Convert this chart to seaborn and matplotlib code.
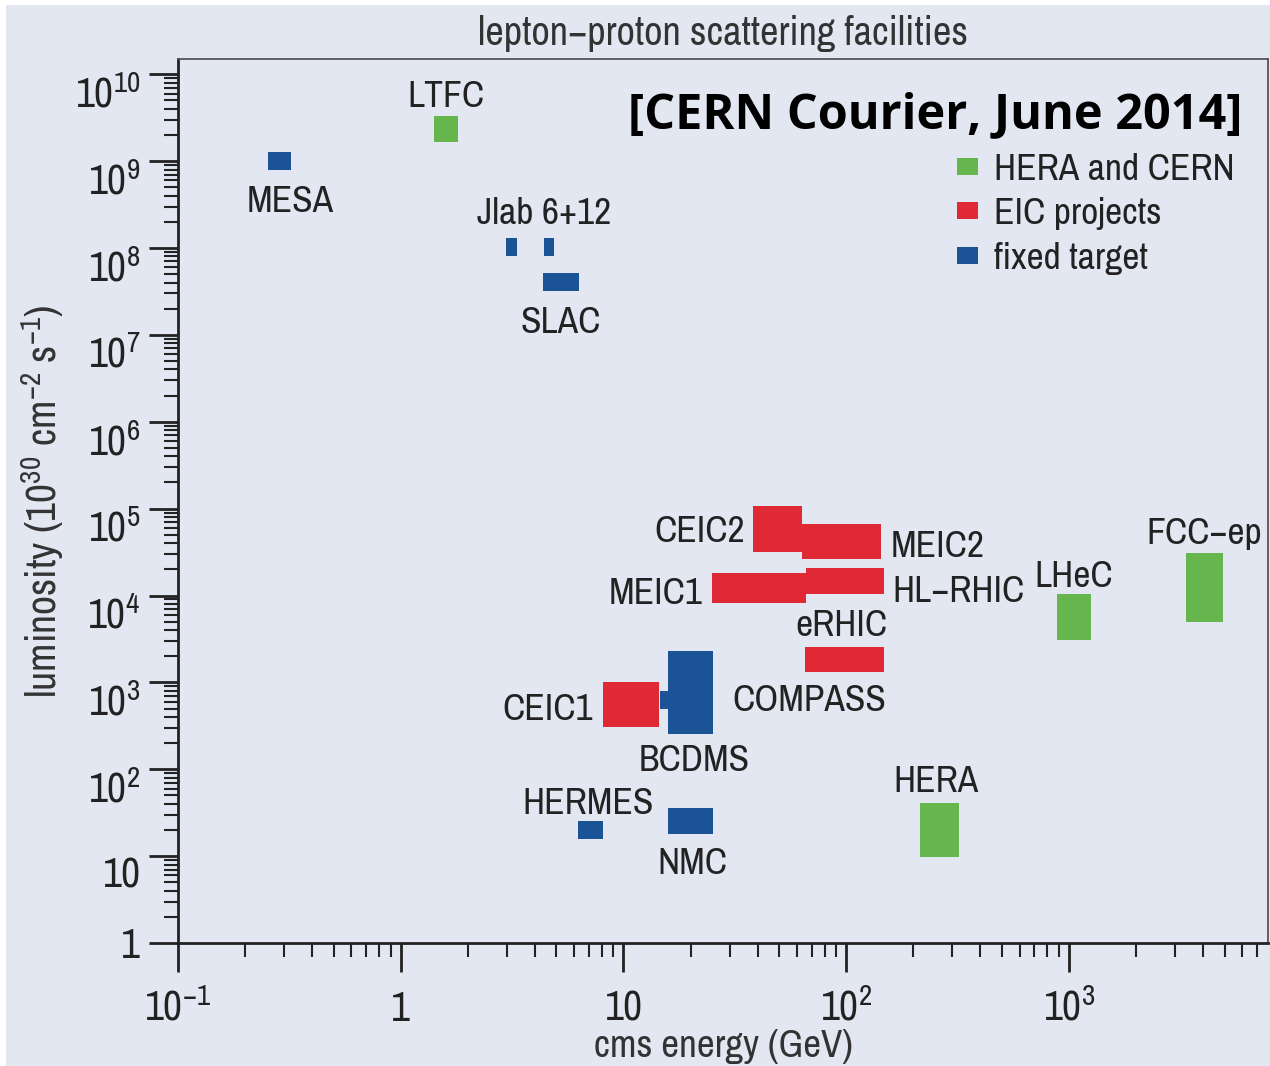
import matplotlib
matplotlib.use("Agg")
import matplotlib.pyplot as plt
from matplotlib.patches import Patch, Rectangle
from matplotlib.ticker import FixedLocator, FixedFormatter, LogLocator, NullFormatter
import seaborn as sns

# facilities: cms energy range (GeV) and luminosity range (1e30 cm^-2 s^-1)
names = ["MESA", "LTFC", "Jlab 6", "Jlab 12", "SLAC",
         "CEIC2", "MEIC2", "MEIC1", "HL-RHIC", "eRHIC",
         "COMPASS", "CEIC1", "BCDMS", "HERMES", "NMC",
         "HERA", "LHeC", "FCC-ep"]
groups = ["fixed target", "HERA and CERN", "fixed target", "fixed target", "fixed target",
          "EIC projects", "EIC projects", "EIC projects", "EIC projects", "EIC projects",
          "fixed target", "EIC projects", "fixed target", "fixed target", "fixed target",
          "HERA and CERN", "HERA and CERN", "HERA and CERN"]
e_lo = [0.254, 1.41, 2.97, 4.39, 4.35, 38, 63, 25, 66, 65, 14.6, 8.1, 15.8, 6.24, 15.8, 215, 885, 3360]
e_hi = [0.321, 1.81, 3.33, 4.87, 6.3, 63, 144, 66, 148, 148, 20, 14.5, 25.2, 8.09, 25.2, 321, 1260, 4920]
lumi_lo = [8.0e8, 1.65e9, 8.0e7, 8.0e7, 3.2e7, 3.2e4, 2.6e4, 8.3e3, 1.05e4, 1.32e3,
           500, 310, 256, 15.8, 18, 9.8, 3.1e3, 5.0e3]
lumi_hi = [1.26e9, 3.28e9, 1.29e8, 1.29e8, 5.2e7, 1.08e5, 6.7e4, 1.83e4, 2.1e4, 2.57e3,
           800, 1020, 2270, 25.6, 36, 41, 1.03e4, 3.1e4]
label_text = {"Jlab 12": "Jlab 6+12", "HL-RHIC": "HL\u2212RHIC", "FCC-ep": "FCC\u2212ep"}

legend_order = ["HERA and CERN", "EIC projects", "fixed target"]
x_ticks = [0.1, 1, 10, 100, 1000]
x_tick_labels = ["$10^{-1}$", "1", "10", "$10^{2}$", "$10^{3}$"]
y_ticks = [1, 10, 1e2, 1e3, 1e4, 1e5, 1e6, 1e7, 1e8, 1e9, 1e10]
y_tick_labels = ["1", "10"] + ["$10^{%d}$" % k for k in range(2, 11)]

# label placement: offset (points) from box centre to text baseline, horizontal alignment
label_pos = {
    "MESA": (7.6, -36.4, "center"), "LTFC": (0, 15.8, "center"),
    "Jlab 12": (-3.6, 16.6, "center"), "SLAC": (0, -36.7, "center"),
    "CEIC2": (-23.4, -9.4, "right"), "MEIC2": (35.6, -10.8, "left"),
    "MEIC1": (-40.3, -11.5, "right"), "HL-RHIC": (33.8, -15.1, "left"),
    "eRHIC": (-2.2, 16.9, "center"), "COMPASS": (41, -7.9, "left"),
    "CEIC1": (-27.4, -11.2, "right"), "BCDMS": (2.5, -56.2, "center"),
    "HERMES": (-1.8, 11.5, "center"), "NMC": (1.8, -38.2, "center"),
    "HERA": (-2.5, 27.4, "center"), "LHeC": (-0.7, 21.6, "center"),
    "FCC-ep": (-0.4, 31.3, "center"),
}

bg = "#e3e7f2"
palette = {"HERA and CERN": "#66b54d", "EIC projects": "#df2935", "fixed target": "#1a5497"}

sns.set_theme(style="ticks")
narrow = ["Archivo Narrow", "Roboto Condensed", "Liberation Sans", "DejaVu Sans"]
plt.rcParams["font.family"] = narrow
plt.rcParams["mathtext.fontset"] = "custom"
plt.rcParams["mathtext.rm"] = "Archivo Narrow"
plt.rcParams["mathtext.it"] = "Archivo Narrow:italic"
plt.rcParams["mathtext.default"] = "regular"
plt.rcParams["text.color"] = "#222222"

fig = plt.figure(figsize=(12.7, 10.66), dpi=100, facecolor="white")
fig.patches.append(Rectangle((6 / 1270, 0), 1, 1 - 5 / 1066, transform=fig.transFigure,
                             facecolor=bg, edgecolor="none", zorder=-10))
ax = fig.add_axes([178 / 1270, 1 - 943 / 1066, 1090 / 1270, 884 / 1066])
ax.set_facecolor(bg)
ax.set_xscale("log")
ax.set_yscale("log")
ax.set_xlim(0.1, 7830)
ax.set_ylim(1, 1.5e10)

for name, grp, x0, x1, y0, y1 in zip(names, groups, e_lo, e_hi, lumi_lo, lumi_hi):
    ax.bar(x0, y1 - y0, width=x1 - x0, bottom=y0, align="edge",
           color=palette[grp], linewidth=0, zorder=2)
    if name in label_pos:
        dx, dy, ha = label_pos[name]
        ax.annotate(label_text.get(name, name), ((x0 * x1) ** 0.5, (y0 * y1) ** 0.5),
                    xytext=(dx, dy), textcoords="offset points",
                    ha=ha, va="baseline", fontsize=27, color="#222222", zorder=3)

ax.xaxis.set_major_locator(FixedLocator(x_ticks))
ax.xaxis.set_major_formatter(FixedFormatter(x_tick_labels))
ax.yaxis.set_major_locator(FixedLocator(y_ticks))
ax.yaxis.set_major_formatter(FixedFormatter(y_tick_labels))
ax.xaxis.set_minor_locator(LogLocator(base=10, subs=range(2, 10), numticks=30))
ax.yaxis.set_minor_locator(LogLocator(base=10, subs=range(2, 10), numticks=30))
ax.xaxis.set_minor_formatter(NullFormatter())
ax.yaxis.set_minor_formatter(NullFormatter())

ax.tick_params(which="major", length=21, width=2, color="#222222", labelsize=30,
               labelcolor="#222222")
ax.tick_params(which="minor", length=10, width=1.5, color="#222222")
ax.tick_params(axis="x", which="major", pad=35)
ax.tick_params(axis="y", which="major", pad=6)
for lab in ax.get_xticklabels():
    lab.set_va("baseline")
for i, lab in enumerate(ax.get_yticklabels()):
    lab.set_va("center_baseline" if i == 0 else "top")

for side in ["left", "bottom"]:
    ax.spines[side].set_linewidth(2)
    ax.spines[side].set_color("#222222")
for side in ["top", "right"]:
    ax.spines[side].set_linewidth(1.3)
    ax.spines[side].set_color("#555555")

ax.set_title("lepton\u2212proton scattering facilities", fontsize=29, pad=10, color="#333333")
ax.set_xlabel("cms energy (GeV)", fontsize=28, labelpad=1, color="#333333")
ax.set_ylabel("luminosity (10$^{30}$ cm$^{-2}$ s$^{-1}$)", fontsize=30, labelpad=6,
              color="#333333")

handles = [Patch(facecolor=palette[g], edgecolor="none", label=g) for g in legend_order]
ax.legend(handles=handles, loc="upper right", bbox_to_anchor=(0.969, 0.894), frameon=False,
          fontsize=27, handlelength=0.55, handleheight=0.33, handletextpad=0.42,
          labelspacing=0.31, borderaxespad=0, borderpad=0)

fig.text(1242 / 1270, 1 - 128 / 1066, "[CERN Courier, June 2014]", ha="right", va="baseline",
         fontsize=35, fontweight="bold", family=["Open Sans", "DejaVu Sans"], color="black")

fig.savefig("out.png", dpi=100, facecolor=fig.get_facecolor())
